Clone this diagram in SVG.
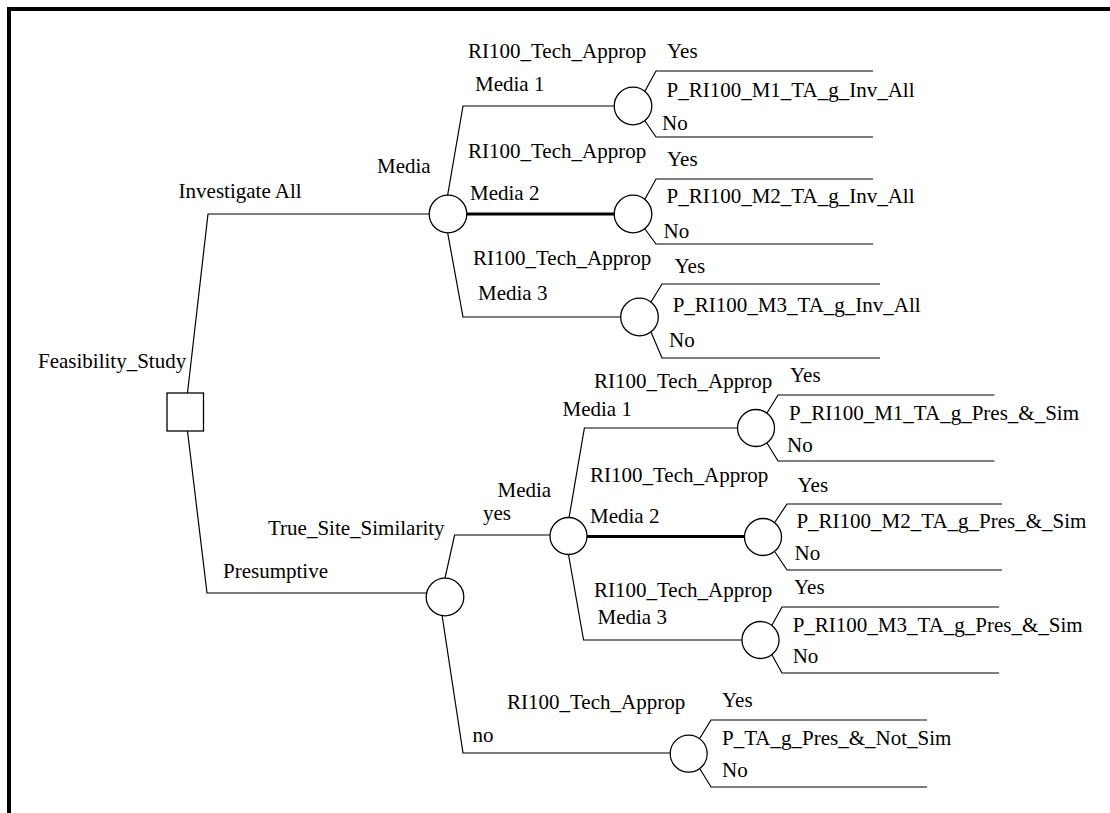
<svg xmlns="http://www.w3.org/2000/svg" width="1110" height="813" viewBox="0 0 1110 813">
<style>
text{font-family:"Liberation Serif","DejaVu Serif",serif;font-size:21px;fill:#000}
.ln{fill:none;stroke:#000;stroke-width:1.2}
.thick{fill:none;stroke:#000;stroke-width:3}
.node{fill:#fff;stroke:#000;stroke-width:1.3}
.border{fill:none;stroke:#000;stroke-width:4}
</style>
<rect width="1110" height="813" fill="#fff"/>
<path class="border" d="M9 813 V9 H1110"/>
<g id="connectors">
<polyline class="ln" points="187.5,393 208,214 429,214"/>
<polyline class="ln" points="187.5,431 207,593 426,593"/>
<polyline class="ln" points="447.5,196 463,106 614,106"/>
<line class="thick" x1="467" y1="214" x2="614.5" y2="214"/>
<polyline class="ln" points="447.5,232 463,317 621,317"/>
<polyline class="ln" points="445,578 454.6,535 550,535"/>
<polyline class="ln" points="442,615 463,753 670,753"/>
<polyline class="ln" points="569,518 584.4,428 737.5,428"/>
<line class="thick" x1="587" y1="536.5" x2="744.7" y2="536.5"/>
<polyline class="ln" points="568.4,554 583.6,640 742,640"/>
<polyline class="ln" points="645,91 656,71 873,71"/>
<polyline class="ln" points="645,121 656,137 873,137"/>
<polyline class="ln" points="645,199 656,179 873,179"/>
<polyline class="ln" points="645,229 656,244 873,244"/>
<polyline class="ln" points="651,302 662,284 880,284"/>
<polyline class="ln" points="651,332 662,358 880,358"/>
<polyline class="ln" points="767,413 778,395 994.5,395"/>
<polyline class="ln" points="767,443 778,461 994.5,461"/>
<polyline class="ln" points="775,522 787,504 1002,504"/>
<polyline class="ln" points="775,552 787,570 1002,570"/>
<polyline class="ln" points="772,625 782,607 999,607"/>
<polyline class="ln" points="772,655 782,673 999,673"/>
<polyline class="ln" points="700,738 711,720 927,720"/>
<polyline class="ln" points="700,769 711,787 927,787"/>
</g>
<g id="feasibility_study">
<rect class="node" x="167" y="393" width="36.5" height="38"/>
<text x="38" y="368">Feasibility_Study</text>
</g>
<g id="media_inv">
<circle class="node" cx="448" cy="214" r="18.8"/>
<text x="377" y="173">Media</text>
<text x="178.6" y="198">Investigate All</text>
</g>
<g id="tech_m1_inv">
<circle class="node" cx="633" cy="106" r="18.8"/>
<text x="468" y="58">RI100_Tech_Approp</text>
<text x="475" y="91">Media 1</text>
<text x="667" y="58">Yes</text>
<text x="666.5" y="97">P_RI100_M1_TA_g_Inv_All</text>
<text x="662" y="130">No</text>
</g>
<g id="tech_m2_inv">
<circle class="node" cx="633" cy="214" r="18.8"/>
<text x="468" y="158">RI100_Tech_Approp</text>
<text x="470" y="200">Media 2</text>
<text x="667" y="166">Yes</text>
<text x="666.5" y="203">P_RI100_M2_TA_g_Inv_All</text>
<text x="663.6" y="238">No</text>
</g>
<g id="tech_m3_inv">
<circle class="node" cx="639.5" cy="317" r="18.8"/>
<text x="473" y="265">RI100_Tech_Approp</text>
<text x="478" y="300">Media 3</text>
<text x="674.5" y="273">Yes</text>
<text x="672.7" y="312">P_RI100_M3_TA_g_Inv_All</text>
<text x="669" y="347">No</text>
</g>
<g id="true_site_similarity">
<circle class="node" cx="445" cy="597" r="18.8"/>
<text x="268" y="535">True_Site_Similarity</text>
<text x="223" y="578">Presumptive</text>
<text x="483" y="520">yes</text>
<text x="472.5" y="742">no</text>
</g>
<g id="media_pres">
<circle class="node" cx="568.5" cy="536" r="18.5"/>
<text x="497.5" y="497">Media</text>
</g>
<g id="tech_m1_pres">
<circle class="node" cx="756" cy="428" r="18.5"/>
<text x="594" y="388">RI100_Tech_Approp</text>
<text x="562.5" y="416">Media 1</text>
<text x="790" y="382">Yes</text>
<text x="789" y="420">P_RI100_M1_TA_g_Pres_&amp;_Sim</text>
<text x="787" y="452">No</text>
</g>
<g id="tech_m2_pres">
<circle class="node" cx="763" cy="537" r="18.5"/>
<text x="590" y="482">RI100_Tech_Approp</text>
<text x="590" y="523">Media 2</text>
<text x="797.5" y="492">Yes</text>
<text x="796.4" y="528">P_RI100_M2_TA_g_Pres_&amp;_Sim</text>
<text x="794.5" y="560">No</text>
</g>
<g id="tech_m3_pres">
<circle class="node" cx="760.5" cy="640" r="18.5"/>
<text x="594" y="597">RI100_Tech_Approp</text>
<text x="597.5" y="624">Media 3</text>
<text x="794" y="594">Yes</text>
<text x="792.7" y="632">P_RI100_M3_TA_g_Pres_&amp;_Sim</text>
<text x="792.7" y="663">No</text>
</g>
<g id="tech_not_sim">
<circle class="node" cx="688.7" cy="753.7" r="18.5"/>
<text x="507" y="709">RI100_Tech_Approp</text>
<text x="722" y="707">Yes</text>
<text x="722" y="745">P_TA_g_Pres_&amp;_Not_Sim</text>
<text x="722" y="777">No</text>
</g>
</svg>
